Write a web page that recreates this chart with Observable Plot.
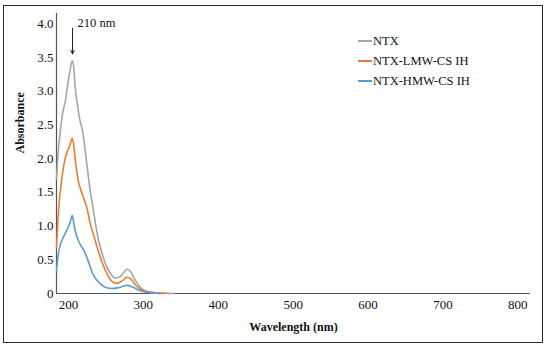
<!DOCTYPE html>
<html>
<head>
<meta charset="utf-8">
<script src="https://cdn.jsdelivr.net/npm/d3@7"></script>
<script src="https://cdn.jsdelivr.net/npm/@observablehq/plot@0.6"></script>
<style>
  html, body { margin: 0; padding: 0; background: #fff; }
  body { width: 550px; height: 348px; position: relative; overflow: hidden; font-family: "Liberation Serif", "Times New Roman", serif; }
  #frame { position: absolute; left: 3px; top: 5px; width: 538px; height: 336px; border: 1.5px solid #2b2b2b; pointer-events: none; }
  #chart { position: absolute; left: 0; top: 0; }
  #legend { position: absolute; left: 358px; top: 31px; font-size: 12.5px; color: #111; }
  .row { display: flex; align-items: center; height: 20px; }
  .sw { display: inline-block; width: 14px; height: 2px; margin-right: 1px; }
</style>
</head>
<body>
<div id="chart"></div>
<div id="legend"></div>
<div id="frame"></div>
<script>
const seriesNames = ["NTX", "NTX-LMW-CS IH", "NTX-HMW-CS IH"];
const seriesColors = ["#a5a5a5", "#ed7d31", "#5b9bd5"];

const ntxWavelength = [184,186,189,193,196,199,202,205,207,209,212,215,219,222,225,229,233,236,240,245,250,256,262,268,273,278,282,287,292,297,303,310,320,330,340];
const ntxAbsorbance = [1.7,2.05,2.4,2.72,2.86,3.1,3.3,3.45,3.35,3.05,2.8,2.58,2.4,2.15,1.87,1.53,1.25,1.04,0.8,0.59,0.42,0.30,0.23,0.24,0.30,0.36,0.34,0.24,0.15,0.08,0.04,0.02,0.01,0.005,0];

const lmwWavelength = [184,186,188,190,193,196,199,202,205,207,209,211,213,216,220,225,229,234,239,245,252,259,265,272,278,283,288,293,300,310,320,330];
const lmwAbsorbance = [0.68,1.1,1.4,1.6,1.85,2.02,2.12,2.2,2.30,2.2,1.98,1.82,1.67,1.55,1.42,1.25,1.04,0.85,0.66,0.46,0.28,0.17,0.15,0.19,0.24,0.22,0.15,0.09,0.04,0.015,0.005,0];

const hmwWavelength = [184,186,189,193,199,202,205,207,209,213,216,220,224,228,232,237,243,250,259,268,278,284,290,296,303,312,322];
const hmwAbsorbance = [0.34,0.55,0.72,0.83,0.97,1.05,1.155,1.05,0.93,0.79,0.72,0.65,0.55,0.43,0.30,0.21,0.14,0.09,0.075,0.09,0.12,0.105,0.07,0.04,0.02,0.008,0];

const xTicks = [200, 300, 400, 500, 600, 700, 800];
const yTicks = [0, 0.5, 1.0, 1.5, 2.0, 2.5, 3.0, 3.5, 4.0];
const xDomain = [184, 817];
const yDomain = [0, 4.15];
const peakLabel = "210 nm";
const peakWavelength = 205.4;
const arrowTop = 3.93, arrowBottom = 3.55;

const allSeries = [
  {name: seriesNames[0], x: ntxWavelength, y: ntxAbsorbance},
  {name: seriesNames[1], x: lmwWavelength, y: lmwAbsorbance},
  {name: seriesNames[2], x: hmwWavelength, y: hmwAbsorbance}
];
const rows = allSeries.flatMap(s => s.x.map((w, i) => ({series: s.name, wavelength: w, absorbance: s.y[i]})));

const plot = Plot.plot({
  width: 550,
  height: 348,
  marginLeft: 56,
  marginRight: 20,
  marginTop: 13,
  marginBottom: 55,
  style: {fontFamily: "'Liberation Serif', 'Times New Roman', serif", fontSize: "13px", color: "#111", background: "transparent"},
  x: {domain: xDomain, ticks: xTicks, tickSize: 0, tickPadding: 6, label: null, tickFormat: d => String(d)},
  y: {domain: yDomain, ticks: yTicks, tickSize: 0, tickPadding: 3, label: null, tickFormat: d => d === 0 ? "0" : d.toFixed(1)},
  color: {domain: seriesNames, range: seriesColors},
  marks: [
    Plot.ruleY([0], {stroke: "#555", strokeWidth: 1.2}),
    Plot.ruleX([xDomain[0]], {stroke: "#555", strokeWidth: 1.2}),
    Plot.line(rows, {x: "wavelength", y: "absorbance", stroke: "series", z: "series", strokeWidth: 1.6, curve: "monotone-x"}),
    Plot.arrow([{x: peakWavelength, y1: arrowTop, y2: arrowBottom}], {x1: "x", x2: "x", y1: "y1", y2: "y2", stroke: "#222", strokeWidth: 1, headLength: 6, headAngle: 50}),
    Plot.text([{x: peakWavelength, y: arrowTop, t: peakLabel}], {x: "x", y: "y", text: "t", dx: 5, dy: -5, textAnchor: "start", fontSize: 12.5, fill: "#111"}),
    Plot.text([{x: (xDomain[0] + xDomain[1]) / 2, t: "Wavelength (nm)"}], {x: "x", frameAnchor: "bottom", text: "t", dy: 37, fontWeight: "bold", fontSize: 12, fill: "#111"}),
    Plot.text([{t: "Absorbance"}], {frameAnchor: "left", text: "t", rotate: -90, dx: -36, fontWeight: "bold", fontSize: 12, fill: "#111"})
  ]
});
document.getElementById("chart").appendChild(plot);

const legend = document.getElementById("legend");
seriesNames.forEach((n, i) => {
  const r = document.createElement("div");
  r.className = "row";
  const sw = document.createElement("span");
  sw.className = "sw";
  sw.style.background = seriesColors[i];
  const t = document.createElement("span");
  t.textContent = n;
  r.appendChild(sw); r.appendChild(t);
  legend.appendChild(r);
});
</script>
</body>
</html>
